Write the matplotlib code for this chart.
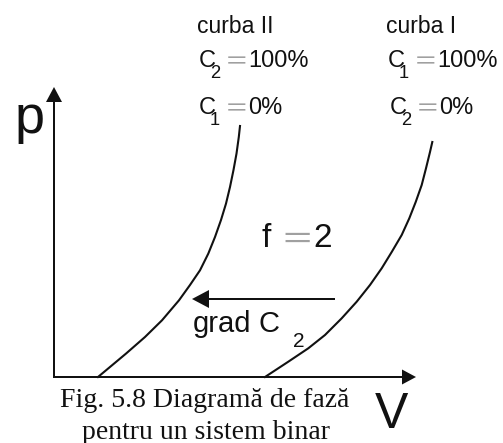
import numpy as np
import matplotlib
matplotlib.use('Agg')
import matplotlib.pyplot as plt

# Phase diagram data (V, p), origin at the corner of the axes ---------
curve_I_V = [211, 234.3, 254.3, 271, 287.7, 302.7, 316, 327.7, 337.7, 347.7,
             355.3, 361.7, 367.7, 372, 376, 378.3]
curve_I_p = [0, 15.3, 28.7, 42, 58.7, 75.3, 92, 108.7, 125, 142,
             158.7, 175, 192, 208.7, 225, 235]

curve_II_V = [44, 72, 91, 108, 125, 136, 146, 154.3, 161, 167,
              172, 176, 179.5, 182.5, 184.8, 186]
curve_II_p = [0, 23.4, 40, 56.7, 76.7, 92, 106.7, 123.4, 140, 157,
              173.4, 190, 207, 223.4, 240, 251]

# Axis extents and the composition gradient arrow
V_max, p_max = 362, 290
grad_start, grad_end, grad_p = 281, 138, 78

curve_labels = ['curba II', 'curba I']
caption = ['Fig. 5.8 Diagramă de fază', 'pentru un sistem binar']

INK = '#111111'
EQ_GRAY = '#a0a0a0'
SANS = 'Liberation Sans'
SERIF = 'Liberation Serif'
EQ_FONT = ['Noto Sans CJK JP', 'DejaVu Sans']
EQ = '\uff1d'

fig = plt.figure(figsize=(5.03, 4.43), dpi=100)
ax = fig.add_axes([0, 0, 1, 1])
ax.set_xlim(-54, 449)
ax.set_ylim(-66, 377)
ax.axis('off')

# Axes with arrow heads
ax.arrow(-1, 0, V_max + 1, 0, width=2, head_width=15, head_length=14,
         length_includes_head=True, fc=INK, ec='none')
ax.arrow(0, -1, 0, p_max + 1, width=2, head_width=16, head_length=15,
         length_includes_head=True, fc=INK, ec='none')

# Coexistence curves
ax.plot(curve_I_V, curve_I_p, color=INK, lw=1.5, solid_joinstyle='round')
ax.plot(curve_II_V, curve_II_p, color=INK, lw=1.5, solid_joinstyle='round')

# Gradient arrow
ax.arrow(grad_start, grad_p, grad_end - grad_start, 0, width=2, head_width=18,
         head_length=17, length_includes_head=True, fc=INK, ec='none')


def comp_label(x, y, sub, value, size=17):
    # C with subscript, gray equals sign, then the percentage
    ax.text(x, y, 'C', fontsize=size, family=SANS, color=INK, va='baseline')
    ax.text(x + 11, y - 11, sub, fontsize=size * 0.78, family=SANS, color=INK, va='baseline')
    ax.text(x + 26, y - 2, EQ, fontsize=size, family=EQ_FONT, color=EQ_GRAY, va='baseline')
    ax.text(x + 49, y, value, fontsize=size, family=SANS, color=INK, va='baseline')


ax.text(143, 344, curve_labels[0], fontsize=16.5, family=SANS, color=INK, va='baseline')
ax.text(332, 344, curve_labels[1], fontsize=16.5, family=SANS, color=INK, va='baseline')
comp_label(145, 310, '2', '100%')
comp_label(145, 263, '1', '0%')
comp_label(334, 310, '1', '100%')
comp_label(336, 263, '2', '0%')

# Degrees of freedom between the curves
ax.text(208, 130, 'f', fontsize=24, family=SANS, color=INK, va='baseline')
ax.text(226, 127, EQ, fontsize=24, family=EQ_FONT, color=EQ_GRAY, va='baseline')
ax.text(259, 130, '2', fontsize=24, family=SANS, color=INK, va='baseline')

ax.text(139, 45, 'grad', fontsize=21, family=SANS, color=INK, va='baseline')
ax.text(205, 45, 'C', fontsize=21, family=SANS, color=INK, va='baseline')
ax.text(239, 30, '2', fontsize=15, family=SANS, color=INK, va='baseline')

# Axis names
ax.text(-39, 244, 'p', fontsize=39, family=SANS, color=INK, va='baseline')
ax.text(321, -51, 'V', fontsize=36, family=SANS, color=INK, va='baseline')

# Caption
ax.text(151, -30, caption[0], fontsize=20, family=SERIF, color=INK, ha='center', va='baseline')
ax.text(152, -62, caption[1], fontsize=20, family=SERIF, color=INK, ha='center', va='baseline')

fig.savefig('out.png', dpi=100, facecolor='white')
